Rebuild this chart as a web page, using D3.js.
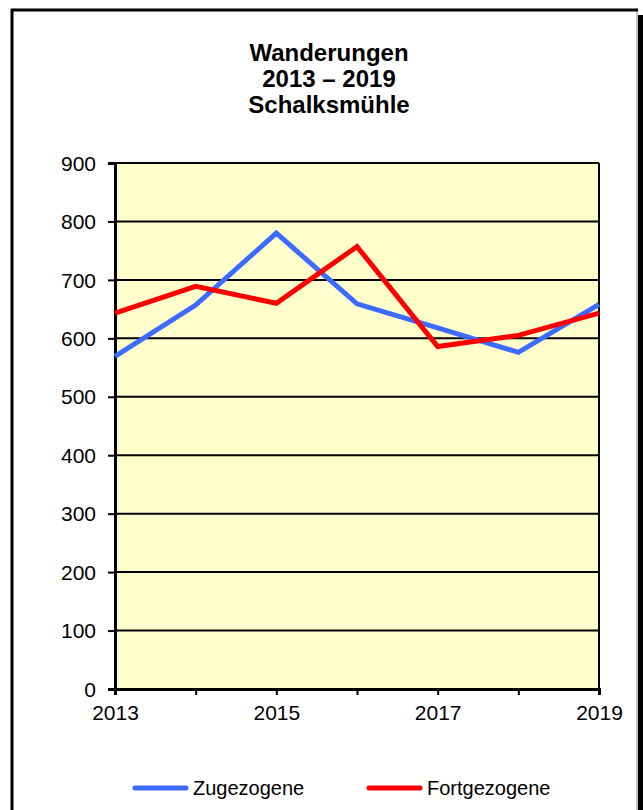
<!DOCTYPE html>
<html>
<head>
<meta charset="utf-8">
<script src="https://cdn.jsdelivr.net/npm/d3@7"></script>
<style>
  body { margin: 0; background: #fff; }
  text { font-family: Arial, "Liberation Sans", sans-serif; }
</style>
</head>
<body>
<div id="chart"></div>
<script>
// Data
const years = [2013, 2014, 2015, 2016, 2017, 2018, 2019];
const zugezogene = [569, 657, 780, 659, 618, 576, 658];
const fortgezogene = [643, 689, 660, 757, 586, 605, 643];
const yTicks = [0, 100, 200, 300, 400, 500, 600, 700, 800, 900];
const xLabelYears = [2013, 2015, 2017, 2019];
const titleLines = ["Wanderungen", "2013 – 2019", "Schalksmühle"];
const seriesNames = ["Zugezogene", "Fortgezogene"];
const seriesColors = ["#3d6bff", "#ff0000"];

const W = 643, H = 810;
const margin = { top: 163, right: 44, bottom: 121, left: 115 };
const width = W - margin.left - margin.right;
const height = H - margin.top - margin.bottom;

const svg = d3.select('#chart')
  .append('svg')
  .attr('width', W)
  .attr('height', H);

// Outer frame with shadow on the right
svg.append('rect').attr('x', 638).attr('y', 15).attr('width', 5).attr('height', H - 15).attr('fill', '#000');
svg.append('line').attr('x1', 637).attr('x2', 637).attr('y1', 10).attr('y2', H).attr('stroke', '#888').attr('stroke-width', 1);
svg.append('line').attr('x1', 11).attr('x2', 638).attr('y1', 10).attr('y2', 10).attr('stroke', '#000').attr('stroke-width', 3);
svg.append('line').attr('x1', 12).attr('x2', 12).attr('y1', 9).attr('y2', H).attr('stroke', '#000').attr('stroke-width', 3);

// Title
svg.append('g')
  .selectAll('text')
  .data(titleLines)
  .enter()
  .append('text')
  .attr('x', 329)
  .attr('y', (d, i) => 61 + i * 26)
  .attr('text-anchor', 'middle')
  .attr('font-weight', 'bold')
  .attr('font-size', 24)
  .text(d => d);

const g = svg.append('g').attr('transform', `translate(${margin.left},${margin.top})`);

const x = d3.scaleLinear().domain([2013, 2019]).range([0, width]);
const y = d3.scaleLinear().domain([0, 900]).range([height, 0]);

// Plot background
g.append('rect')
  .attr('width', width)
  .attr('height', height)
  .attr('fill', '#ffffcc');

// Grid lines
g.append('g')
  .selectAll('line')
  .data(yTicks.filter(t => t > 0))
  .enter()
  .append('line')
  .attr('x1', 0)
  .attr('x2', width)
  .attr('y1', d => y(d))
  .attr('y2', d => y(d))
  .attr('stroke', '#000')
  .attr('stroke-width', 2);

// Right border of the plot
g.append('line')
  .attr('x1', width).attr('x2', width)
  .attr('y1', 0).attr('y2', height)
  .attr('stroke', '#000').attr('stroke-width', 2);

// Y axis
const yAxis = g.append('g')
  .attr('font-family', null)
  .call(d3.axisLeft(y).tickValues(yTicks).tickSize(7).tickPadding(12));
yAxis.attr('font-family', null);
yAxis.select('.domain').attr('stroke-width', 3);
yAxis.selectAll('line').attr('stroke-width', 2);
yAxis.selectAll('text').attr('font-size', 21).attr('fill', '#000').attr('dy', '0.34em');

// X axis
const xAxis = g.append('g')
  .attr('transform', `translate(0,${height})`)
  .call(d3.axisBottom(x).tickValues(years).tickSize(6).tickPadding(10)
    .tickFormat(d => xLabelYears.includes(d) ? String(d) : ''));
xAxis.attr('font-family', null);
xAxis.select('.domain').attr('stroke-width', 3);
xAxis.selectAll('line').attr('stroke-width', 2);
xAxis.selectAll('text').attr('font-size', 21).attr('fill', '#000');

// Lines
const line = d3.line().x((d, i) => x(years[i])).y(d => y(d));
[zugezogene, fortgezogene].forEach((s, k) => {
  g.append('path')
    .datum(s)
    .attr('fill', 'none')
    .attr('stroke', seriesColors[k])
    .attr('stroke-width', 5)
    .attr('stroke-linejoin', 'miter')
    .attr('d', line);
});

// Legend
const legendX = [133, 367];
const legend = svg.append('g');
seriesNames.forEach((name, k) => {
  legend.append('line')
    .attr('x1', legendX[k] + 2).attr('x2', legendX[k] + 53)
    .attr('y1', 788).attr('y2', 788)
    .attr('stroke', seriesColors[k])
    .attr('stroke-width', 5)
    .attr('stroke-linecap', 'round');
  legend.append('text')
    .attr('x', legendX[k] + 60)
    .attr('y', 795)
    .attr('font-size', 20)
    .text(name);
});
</script>
</body>
</html>
